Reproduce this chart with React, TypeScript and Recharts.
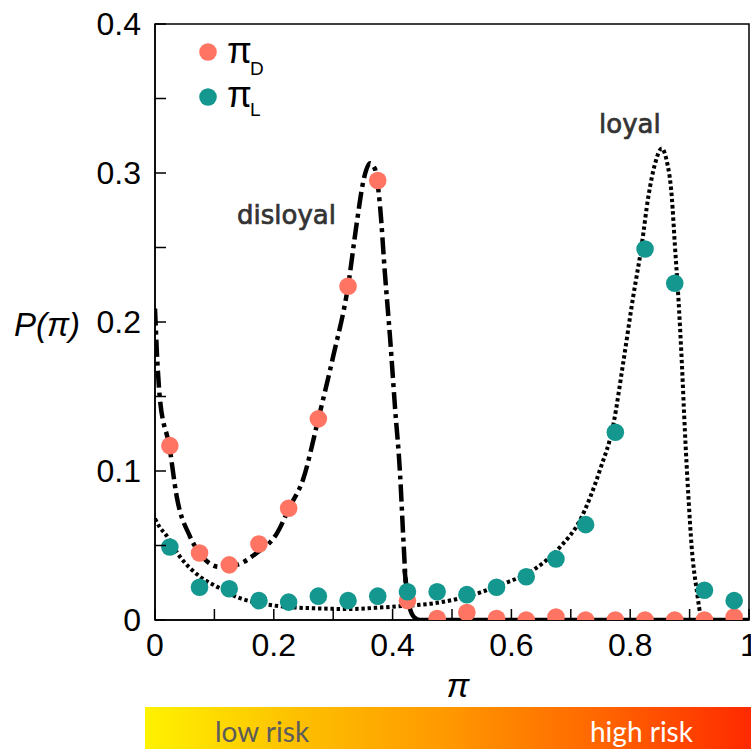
import { ComposedChart, Line, Scatter, XAxis, YAxis, ReferenceArea } from 'recharts'

// histogram bins (centres) and the two measured distributions
const binCenters = [0.025, 0.075, 0.125, 0.175, 0.225, 0.275, 0.325, 0.375, 0.425, 0.475, 0.525, 0.575, 0.625, 0.675, 0.725, 0.775, 0.825, 0.875, 0.925, 0.975]
const piD = [0.117, 0.045, 0.037, 0.051, 0.075, 0.135, 0.224, 0.295, 0.013, 0.001, 0.005, 0.001, 0, 0.002, 0, 0, 0, 0, 0, 0.002]
const piL = [0.049, 0.022, 0.021, 0.013, 0.012, 0.016, 0.013, 0.016, 0.019, 0.019, 0.017, 0.022, 0.029, 0.041, 0.064, 0.126, 0.249, 0.226, 0.020, 0.013]

// fitted curve, disloyal (dash-dot part)
const disloyalX = [0, 0.003, 0.0084, 0.024, 0.0365, 0.059, 0.081, 0.109, 0.1375, 0.171, 0.205, 0.227, 0.249, 0.275, 0.3, 0.325, 0.3395, 0.351, 0.362, 0.37, 0.379, 0.387, 0.396, 0.404, 0.4125, 0.418, 0.422]
const disloyalY = [0.209, 0.181, 0.148, 0.117, 0.083, 0.056, 0.042, 0.0356, 0.037, 0.045, 0.058, 0.076, 0.094, 0.135, 0.177, 0.224, 0.266, 0.295, 0.3065, 0.303, 0.277, 0.233, 0.188, 0.143, 0.0985, 0.055, 0.025]
// disloyal tail, drawn solid along zero
const tailX = [0.42, 0.425, 0.429, 0.436, 0.446, 1]
const tailY = [0.034, 0.017, 0.008, 0.002, 0, 0]

// fitted curve, loyal (dotted)
const loyalX = [0, 0.0084, 0.0168, 0.042, 0.076, 0.104, 0.143, 0.177, 0.216, 0.272, 0.328, 0.384, 0.418, 0.469, 0.525, 0.581, 0.637, 0.682, 0.7155, 0.749, 0.772, 0.788, 0.805, 0.819, 0.8305, 0.842, 0.853, 0.861, 0.87, 0.8754, 0.881, 0.887, 0.892, 0.898, 0.9035, 0.912, 0.92, 0.93, 1]
const loyalY = [0.068, 0.062, 0.058, 0.0425, 0.029, 0.0224, 0.0146, 0.0112, 0.009, 0.0078, 0.0074, 0.0085, 0.0094, 0.0112, 0.0157, 0.0235, 0.0336, 0.049, 0.067, 0.1007, 0.132, 0.172, 0.217, 0.2505, 0.284, 0.3065, 0.3165, 0.309, 0.284, 0.2505, 0.217, 0.172, 0.1275, 0.0828, 0.049, 0.02, 0.002, 0, 0]

const xTicks = [0, 0.1, 0.2, 0.3, 0.4, 0.5, 0.6, 0.7, 0.8, 0.9, 1]
const yTicks = [0, 0.05, 0.1, 0.15, 0.2, 0.25, 0.3, 0.35, 0.4]

const RED = '#FF7462'
const TEAL = '#13978E'
const FONT = '"Liberation Sans", Arial, Helvetica, sans-serif'
const NOTE_FONT = '"DejaVu Sans", sans-serif'

const pairs = (xs: number[], ys: number[]) => xs.map((x, i) => ({ x, y: ys[i] }))

const isMajor = (v: number, step: number) => Math.abs(v / step - Math.round(v / step)) < 1e-6
const fmt = (v: number) => (v === 0 ? '0' : v === 1 ? '1' : v.toFixed(1))

const YTick = (props: any) => {
  const { x, y, payload } = props
  const v = payload.value
  return (
    <g>
      <line x1={x} x2={x + 11} y1={y} y2={y} stroke="#000" strokeWidth={1.5} />
      {isMajor(v, 0.1) && (
        <text x={x - 14} y={y + 11} textAnchor="end" fontSize={32} fontFamily={FONT} fill="#000">
          {fmt(v)}
        </text>
      )}
    </g>
  )
}

const XTick = (props: any) => {
  const { x, y, payload } = props
  const v = payload.value
  return (
    <g>
      <line x1={x} x2={x} y1={y} y2={y - 11} stroke="#000" strokeWidth={1.5} />
      {isMajor(v, 0.2) && (
        <text x={x} y={y + 36} textAnchor="middle" fontSize={32} fontFamily={FONT} fill="#000">
          {fmt(v)}
        </text>
      )}
    </g>
  )
}

const dot = (color: string) => (props: any) => <circle cx={props.cx} cy={props.cy} r={8.8} fill={color} />

export default function App() {
  const dData = pairs(binCenters, piD)
  const lData = pairs(binCenters, piL)

  return (
    <div style={{ position: 'absolute', left: 0, top: 0, width: 751, height: 749, background: '#fff' }}>
      <ComposedChart width={751} height={749} margin={{ top: 24, right: 2, bottom: 0, left: 0 }}>
        <XAxis
          type="number"
          dataKey="x"
          domain={[0, 1]}
          ticks={xTicks}
          interval={0}
          height={129}
          tickSize={0}
          tickMargin={0}
          tick={<XTick />}
          axisLine={{ stroke: '#000', strokeWidth: 1.5 }}
          allowDataOverflow
        />
        <YAxis
          type="number"
          domain={[0, 0.4]}
          ticks={yTicks}
          interval={0}
          width={155}
          tickSize={0}
          tickMargin={0}
          tick={<YTick />}
          axisLine={{ stroke: '#000', strokeWidth: 1.5 }}
          allowDataOverflow
        />
        <ReferenceArea x1={0} x2={1} y1={0} y2={0.4} fill="none" stroke="#000" strokeWidth={1.5} ifOverflow="visible" />
        <Line
          data={pairs(loyalX, loyalY)}
          dataKey="y"
          type="monotone"
          stroke="#000"
          strokeWidth={4}
          strokeDasharray="3.4 2.8"
          dot={false}
          isAnimationActive={false}
        />
        <Line
          data={pairs(tailX, tailY)}
          dataKey="y"
          type="monotone"
          stroke="#000"
          strokeWidth={4.5}
          dot={false}
          isAnimationActive={false}
        />
        <Line
          data={pairs(disloyalX, disloyalY)}
          dataKey="y"
          type="monotone"
          stroke="#000"
          strokeWidth={4.5}
          strokeDasharray="17 5 4 5"
          dot={false}
          isAnimationActive={false}
        />
        <Scatter data={dData} dataKey="y" shape={dot(RED)} isAnimationActive={false} />
        <Scatter data={lData} dataKey="y" shape={dot(TEAL)} isAnimationActive={false} />
      </ComposedChart>

      <svg width={751} height={749} style={{ position: 'absolute', left: 0, top: 0, pointerEvents: 'none' }}>
        <defs>
          <linearGradient id="risk" x1="0" x2="1" y1="0" y2="0">
            <stop offset="0" stopColor="#FFF200" />
            <stop offset="0.25" stopColor="#FDC000" />
            <stop offset="0.5" stopColor="#FF9800" />
            <stop offset="0.75" stopColor="#FF6600" />
            <stop offset="1" stopColor="#FF2A00" />
          </linearGradient>
        </defs>

        {/* legend */}
        <circle cx={208} cy={52} r={8.8} fill={RED} />
        <text x={227} y={63} fontSize={36} fontFamily={FONT} fill="#000">π</text>
        <text x={250} y={75} fontSize={19} fontFamily={FONT} fill="#000">D</text>
        <circle cx={208} cy={97} r={8.8} fill={TEAL} />
        <text x={227} y={107} fontSize={36} fontFamily={FONT} fill="#000">π</text>
        <text x={250} y={116} fontSize={19} fontFamily={FONT} fill="#000">L</text>

        {/* curve annotations */}
        <text x={237} y={224} fontSize={26} fontFamily={NOTE_FONT} fill="#333" stroke="#333" strokeWidth={0.7}>disloyal</text>
        <text x={599} y={133} fontSize={26} fontFamily={NOTE_FONT} fill="#333" stroke="#333" strokeWidth={0.7}>loyal</text>

        {/* axis titles */}
        <text x={14} y={336} fontSize={33} fontStyle="italic" fontFamily={FONT} fill="#000">P(π)</text>
        <text x={458} y={697} fontSize={34} fontStyle="italic" textAnchor="middle" fontFamily={FONT} fill="#000">π</text>

        {/* risk colour bar */}
        <rect x={145} y={707} width={606} height={42} fill="url(#risk)" />
        <text x={215} y={742} fontSize={28} fontFamily="Lato, sans-serif" fill="#5c5c5c">low risk</text>
        <text x={590} y={742} fontSize={28} fontFamily="Lato, sans-serif" fill="#fff">high risk</text>
      </svg>
    </div>
  )
}
